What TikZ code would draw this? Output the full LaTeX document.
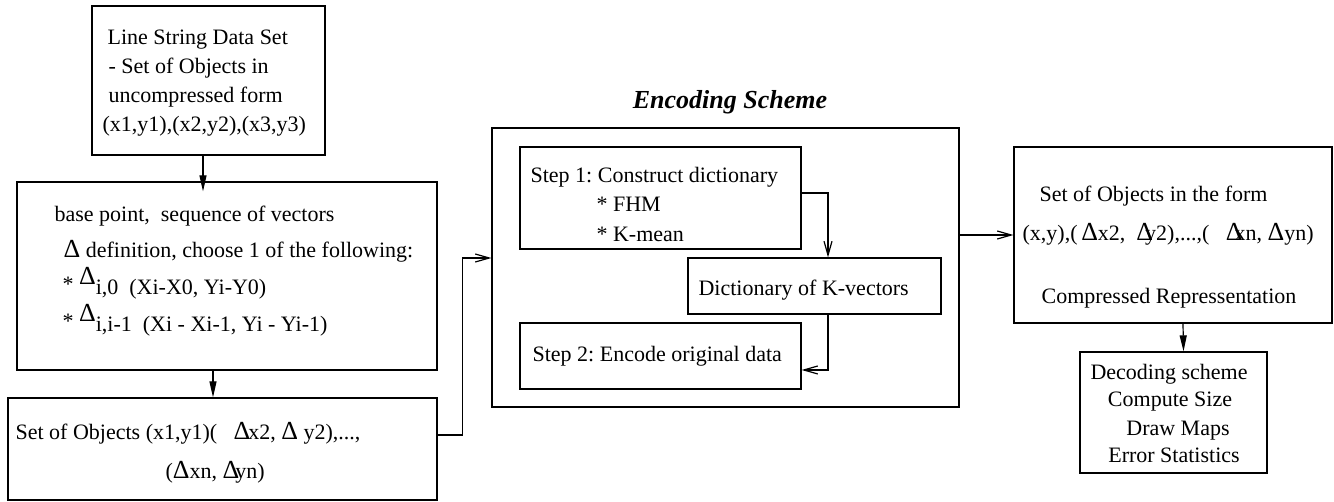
\documentclass[tikz,border=0pt]{standalone}
\usepackage{fontspec}
\setmainfont{Liberation Serif}
\usetikzlibrary{arrows.meta}
\newcommand{\Dlt}{{\fontsize{13}{13}\selectfont Δ}}
\frenchspacing
\begin{document}
\begin{tikzpicture}[x=0.5pt,y=0.5pt,line width=0.6pt,
		blk/.style={draw,rectangle,inner sep=0pt},
		txt/.style={anchor=base west,inner sep=0pt,font=\fontsize{11}{13}\selectfont},
		ctxt/.style={anchor=base,inner sep=0pt,font=\fontsize{11}{13}\selectfont},
		fillarr/.style={-{Triangle[length=8pt,width=3.5pt]}},
		openarr/.style={-{Straight Barb[length=7pt,width=4pt]}}]
			\useasboundingbox (0,0) rectangle (1334,502);
			% boxes
			\node[blk,minimum width=116.5pt,minimum height=74.5pt] (data) at (208.5,421.5) {};
			\node[blk,minimum width=210pt,minimum height=94pt] (delta) at (227,226) {};
			\node[blk,minimum width=214.5pt,minimum height=51pt] (objs) at (222.5,53) {};
			\node[blk,minimum width=233.5pt,minimum height=139.5pt] (enc) at (725.5,234.5) {};
			\node[blk,minimum width=140.5pt,minimum height=51pt] (step1) at (660.5,304) {};
			\node[blk,minimum width=126.5pt,minimum height=28pt] (dict) at (814.5,216) {};
			\node[blk,minimum width=140.5pt,minimum height=33pt] (step2) at (660.5,146) {};
			\node[blk,minimum width=159pt,minimum height=88pt] (comp) at (1173,267) {};
			\node[blk,minimum width=93.5pt,minimum height=60.5pt] (dec) at (1173.5,89.5) {};
			% texts
			\node[txt] (data1) at (107,457) {Line String Data Set};
			\node[txt] (data2) at (108,428) {- Set of Objects in};
			\node[txt] (data3) at (108,399) {uncompressed form};
			\node[txt] (data4) at (102,370) {(x1,y1),(x2,y2),(x3,y3)};
			\node[txt] (delta1) at (54,280) {base point,\ \ sequence of vectors};
			\node[txt] (delta2) at (63,244) {\Dlt{} definition, choose 1 of the following:};
			\node[txt] (delta3) at (62,207) {\raisebox{1.5pt}{*} \raisebox{5pt}{\Dlt}i,0\ \ (Xi-X0, Yi-Y0)};
			\node[txt] (delta4) at (62,170) {\raisebox{1.5pt}{*} \raisebox{5pt}{\Dlt}i,i-1\ \ (Xi - Xi-1, Yi - Yi-1)};
			\node[txt] (objs1) at (15,62) {Set of Objects (x1,y1)(\ \ \ \Dlt\kern-1pt x2, \Dlt\ y2),...,};
			\node[txt] (objs2) at (165,23) {(\Dlt xn, \Dlt\kern-2pt yn)};
			\node[anchor=base,inner sep=0pt,font=\fontsize{13}{15}\selectfont\bfseries\itshape] (title) at (730,393) {Encoding Scheme};
			\node[txt] (step1a) at (530,319) {Step 1: Construct dictionary};
			\node[txt] (step1b) at (596,290) {* FHM};
			\node[txt] (step1c) at (596,260) {* K-mean};
			\node[txt] (dict1) at (698,206) {Dictionary of K-vectors};
			\node[txt] (step2a) at (532,140) {Step 2: Encode original data};
			\node[txt] (comp1) at (1039,300) {Set of Objects in the form};
			\node[txt] (comp2) at (1022,261) {(x,y),(\,\Dlt x2,\ \ \Dlt\kern-4pt y2),...,(\ \ \ \Dlt\kern-4pt xn, \Dlt yn)};
			\node[txt] (comp3) at (1041,198) {Compressed Repressentation};
			\node[ctxt] (dec1) at (1169,122) {Decoding scheme};
			\node[ctxt] (dec2) at (1170,95) {Compute Size};
			\node[ctxt] (dec3) at (1178,66) {Draw Maps};
			\node[ctxt] (dec4) at (1174,39) {Error Statistics};
			% connectors
			\draw[fillarr,shorten >=-5pt] ([xshift=-2.75pt]data.south) -- ([xshift=-2.75pt]data.south |- delta.north);
			\draw[fillarr] ([xshift=-7pt]delta.south) -- ([xshift=-7pt]delta.south |- objs.north);
			\draw[openarr] ([yshift=7pt]objs.east) -- ++(12.5pt,0) |- ([yshift=4.75pt]enc.west);
			\draw[openarr] ([yshift=2.5pt]step1.east) -| ([xshift=6.75pt]dict.north);
			\draw[openarr] ([xshift=6.75pt]dict.south) |- ([yshift=-7pt]step2.east);
			\draw[openarr] (enc.east |- comp.west) -- (comp.west);
			\draw[fillarr] ([xshift=5pt]comp.south) -- ([xshift=5pt]dec.north);
\end{tikzpicture}
\end{document}
